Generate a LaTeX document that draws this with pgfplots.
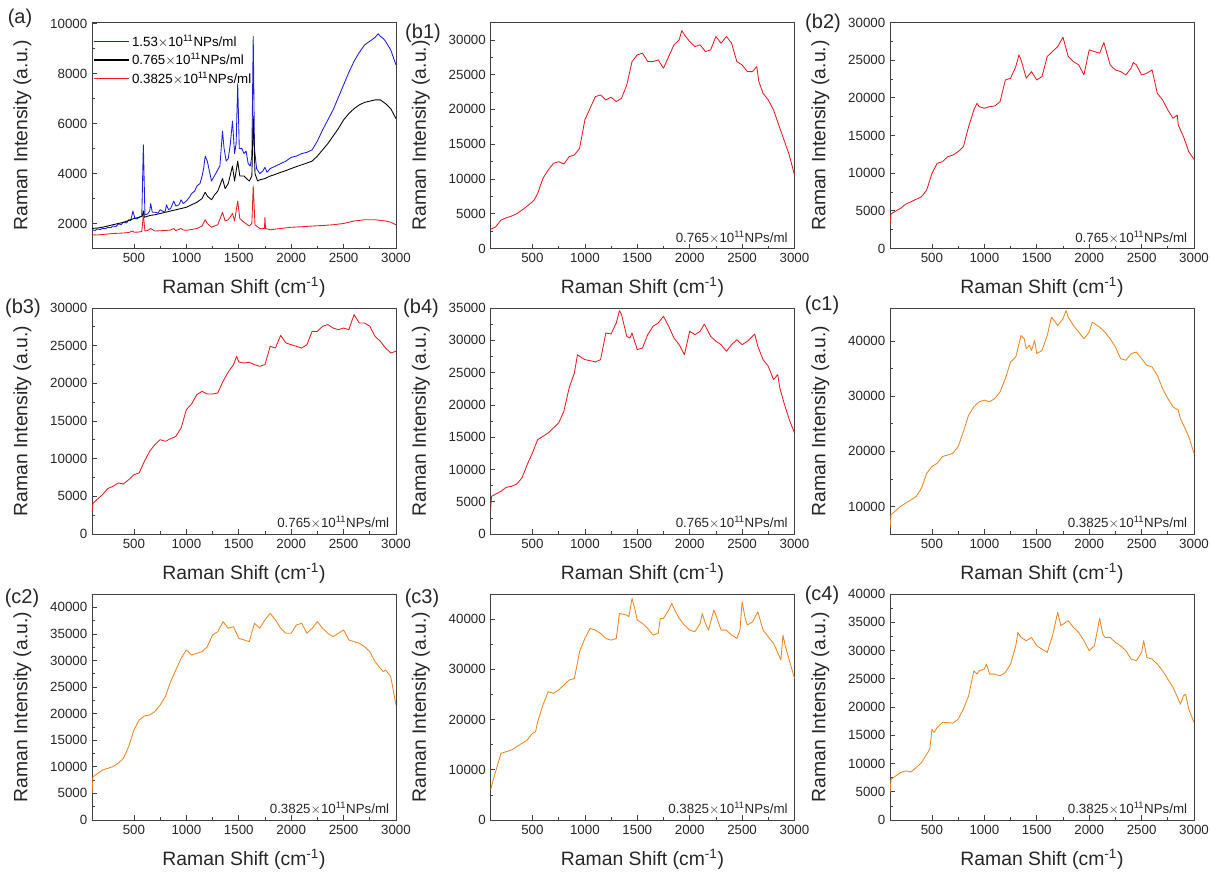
\documentclass[border=0pt]{standalone}
\usepackage{pgfplots}
\pgfplotsset{compat=1.18}
\usepackage{fontspec}
\setmainfont{Liberation Sans}
\definecolor{rred}{RGB}{228,30,36}
\definecolor{rblue}{RGB}{30,30,225}
\definecolor{rorange}{RGB}{236,136,36}
\tikzset{anno/.style={font=\fontsize{10}{12}\selectfont, text=black!85, anchor=east}}
\pgfplotsset{
  raman/.style={
    scale only axis, width=228pt, height=169.5pt,
    xmin=100, xmax=3000, xtick={500,1000,1500,2000,2500,3000},
    minor x tick num=1, minor y tick num=1,
    tick align=inside, tick pos=left,
    major tick length=3.6pt, minor tick length=2.2pt,
    axis line style={draw=black!75, line width=0.6pt},
    every tick/.style={black!75, line width=0.5pt},
    tick label style={font=\fontsize{10}{12}\selectfont, text=black!85},
    label style={font=\fontsize{14.5}{17}\selectfont, text=black!85},
    xlabel={Raman Shift (cm\textsuperscript{-1})},
    ylabel={Raman Intensity (a.u.)},
    x label style={at={(axis description cs:0.5,-0.173)}, anchor=center},
    y label style={at={(axis description cs:-0.229,0.5)}, anchor=center},
    scaled y ticks=false,
    /pgf/number format/1000 sep={},
    /pgf/number format/assume math mode=true,
    every axis plot/.append style={line width=0.65pt, mark=none, line join=round},
  },
}
\begin{document}
\begin{tikzpicture}
\useasboundingbox (0pt,0pt) rectangle (907.5pt,654.75pt);
% ---------------- (a)
\begin{axis}[raman, at={(69pt,637.875pt)}, anchor=north west,
  ymin=1000, ymax=10050, ytick={2000,4000,6000,8000,10000},
  legend cell align=left,
  legend style={at={(rel axis cs:0,1)}, anchor=north west, draw=none, fill=none,
    font=\fontsize{10}{12}\selectfont, inner sep=1pt, row sep=0pt,
    yshift=-6pt},
  legend image code/.code={\draw[#1, line width=0.8pt] (0pt,0pt) -- (26pt,0pt);}]
\addplot[rblue] coordinates {(100,1750)(130,1720)(150,1780)(180,1760)(200,1800)(230,1790)(250,1850)(280,1830)(300,1900)(330,1880)(350,1980)(380,1960)(400,2050)(430,2020)(450,2150)(470,2120)(490,2500)(510,2200)(530,2180)(550,2250)(575,2300)(590,5150)(605,2350)(630,2380)(650,2500)(660,2800)(675,2450)(700,2450)(730,2420)(750,2550)(780,2480)(800,2500)(810,2750)(830,2550)(850,2600)(880,2900)(900,2700)(930,2750)(950,2950)(970,2800)(1000,2900)(1030,3050)(1050,3200)(1080,3300)(1100,3500)(1130,3600)(1150,3900)(1165,4200)(1180,4700)(1200,4500)(1220,4100)(1240,3700)(1260,3850)(1280,4000)(1300,4150)(1320,4300)(1345,5700)(1360,5000)(1380,4500)(1400,4600)(1420,5200)(1440,6100)(1460,4800)(1475,5200)(1490,7600)(1505,5000)(1530,5000)(1550,4800)(1570,4900)(1590,4400)(1610,4300)(1625,4700)(1638,9500)(1650,5000)(1670,4200)(1700,4000)(1730,4100)(1750,4250)(1770,4050)(1800,4200)(1850,4300)(1900,4400)(1950,4500)(2000,4650)(2050,4700)(2100,4800)(2150,4850)(2200,4950)(2250,5300)(2300,5750)(2350,6150)(2400,6550)(2450,7050)(2500,7550)(2550,8050)(2600,8500)(2650,8850)(2700,9150)(2750,9300)(2800,9450)(2830,9600)(2850,9500)(2880,9400)(2900,9300)(2950,8950)(3000,8350)};
\addlegendentry{1.53$\times$10\textsuperscript{11}NPs/ml}
\addplot[black] coordinates {(100,1800)(150,1820)(200,1850)(250,1900)(300,1950)(350,2000)(400,2050)(450,2120)(500,2200)(550,2250)(580,2300)(590,2500)(600,2250)(650,2320)(700,2350)(750,2400)(800,2450)(850,2500)(900,2550)(950,2600)(1000,2650)(1050,2750)(1100,2850)(1150,3000)(1180,3250)(1200,3100)(1240,2950)(1270,3150)(1300,3300)(1345,3800)(1370,3400)(1400,3600)(1440,4300)(1460,3700)(1490,4500)(1510,3900)(1550,3900)(1600,3700)(1625,3900)(1638,6300)(1655,4000)(1680,3700)(1700,3750)(1750,3800)(1800,3900)(1850,3970)(1900,4050)(1950,4120)(2000,4200)(2050,4280)(2100,4350)(2150,4420)(2200,4500)(2250,4700)(2300,4950)(2350,5200)(2400,5500)(2450,5800)(2500,6150)(2550,6400)(2600,6600)(2650,6750)(2700,6850)(2750,6900)(2800,6950)(2850,6950)(2900,6800)(2950,6600)(3000,6200)};
\addlegendentry{0.765$\times$10\textsuperscript{11}NPs/ml}
\addplot[rred] coordinates {(100,1550)(150,1540)(200,1560)(250,1580)(300,1600)(350,1610)(400,1620)(450,1640)(490,1700)(500,1650)(550,1660)(575,1680)(590,2350)(605,1700)(630,1720)(660,1800)(700,1700)(750,1710)(800,1720)(850,1740)(880,1800)(900,1720)(950,1800)(970,1740)(1000,1730)(1050,1760)(1100,1800)(1150,1900)(1180,2150)(1200,2000)(1240,1850)(1270,1900)(1300,1950)(1345,2450)(1370,2100)(1400,2150)(1440,2400)(1460,2100)(1490,2900)(1510,2200)(1550,2050)(1600,1900)(1625,2000)(1638,3500)(1655,1950)(1700,1800)(1745,1800)(1750,2250)(1755,1800)(1800,1750)(1900,1800)(2000,1850)(2100,1870)(2200,1900)(2300,1920)(2400,1950)(2500,2000)(2600,2100)(2700,2150)(2800,2150)(2900,2100)(2950,2050)(3000,1950)};
\addlegendentry{0.3825$\times$10\textsuperscript{11}NPs/ml}
\end{axis}
% ---------------- (b1)
\begin{axis}[raman, at={(367.875pt,637.875pt)}, anchor=north west,
  ymin=0, ymax=32500, ytick={0,5000,10000,15000,20000,25000,30000}]
\addplot[rred] coordinates {(100,2740)(150,3120)(200,4080)(250,4400)(300,4660)(350,5000)(400,5520)(450,6100)(500,6720)(520,7060)(550,7920)(600,10080)(650,11280)(700,12240)(750,12480)(800,12150)(850,13200)(900,13440)(950,14400)(1000,18480)(1050,20160)(1100,21840)(1150,22080)(1200,21360)(1250,21750)(1300,21120)(1350,21600)(1400,23520)(1450,26880)(1500,27840)(1550,28080)(1600,26880)(1650,26880)(1700,27120)(1750,25920)(1800,27600)(1850,29280)(1900,30000)(1925,31350)(1950,30720)(2000,29760)(2050,29040)(2100,29280)(2150,28320)(2200,28560)(2250,30480)(2300,29520)(2350,30480)(2400,29520)(2450,26880)(2500,26400)(2550,25440)(2600,25440)(2640,26160)(2660,24000)(2700,22320)(2750,21360)(2800,19920)(2850,17760)(2900,15600)(2950,13440)(3000,10560)};
\node[anno] at (rel axis cs:0.993,0.05) {0.765$\times$10\textsuperscript{11}NPs/ml};
\end{axis}
% ---------------- (b2)
\begin{axis}[raman, at={(667.5pt,637.875pt)}, anchor=north west,
  ymin=0, ymax=30000, ytick={0,5000,10000,15000,20000,25000,30000}]
\addplot[rred] coordinates {(100,3000)(110,4600)(200,5320)(250,5890)(300,6200)(400,6870)(450,7750)(500,9970)(550,11300)(600,11520)(650,12180)(700,12400)(750,12850)(800,13510)(850,16170)(900,18390)(930,19270)(950,18830)(1000,18610)(1050,18830)(1100,18920)(1150,19490)(1200,22370)(1250,22600)(1300,24150)(1330,25700)(1350,25030)(1400,22600)(1450,23480)(1500,22370)(1550,22820)(1600,25480)(1650,26140)(1700,26800)(1750,28050)(1800,25480)(1850,24810)(1900,24370)(1950,23040)(2000,26360)(2050,26140)(2100,25920)(2140,27340)(2200,24370)(2250,23700)(2300,23480)(2350,23040)(2400,23930)(2420,24680)(2450,24370)(2500,23040)(2550,23260)(2600,23700)(2650,20600)(2700,19720)(2750,18390)(2800,17280)(2840,17720)(2850,16390)(2900,14840)(2950,12850)(3000,11830)};
\node[anno] at (rel axis cs:0.993,0.05) {0.765$\times$10\textsuperscript{11}NPs/ml};
\end{axis}
% ---------------- (b3)
\begin{axis}[raman, at={(69pt,423.75pt)}, anchor=north west,
  ymin=0, ymax=30000, ytick={0,5000,10000,15000,20000,25000,30000}]
\addplot[rred] coordinates {(100,3000)(110,4100)(200,5220)(250,6020)(300,6330)(350,6770)(400,6640)(450,7210)(500,7880)(550,8100)(600,9650)(650,10970)(700,11860)(750,12520)(800,12300)(850,12650)(900,12960)(950,14070)(1000,16500)(1050,17260)(1100,18500)(1150,18940)(1200,18580)(1250,18580)(1300,18720)(1350,20270)(1400,21500)(1450,22480)(1480,23580)(1500,22830)(1550,22700)(1600,22790)(1650,22480)(1700,22260)(1750,22480)(1800,24910)(1850,24690)(1900,26370)(1950,25350)(2000,25130)(2050,24910)(2100,24690)(2150,25130)(2200,26900)(2250,26900)(2300,27570)(2350,27790)(2400,27340)(2450,27120)(2500,27340)(2550,27120)(2600,29120)(2650,28010)(2700,28010)(2750,27570)(2800,26240)(2850,25580)(2900,24690)(2950,24030)(3000,24250)};
\node[anno] at (rel axis cs:0.993,0.05) {0.765$\times$10\textsuperscript{11}NPs/ml};
\end{axis}
% ---------------- (b4)
\begin{axis}[raman, at={(367.875pt,423.75pt)}, anchor=north west,
  ymin=0, ymax=35000, ytick={0,5000,10000,15000,20000,25000,30000,35000}]
\addplot[rred] coordinates {(100,3510)(110,5830)(200,6610)(250,7230)(300,7380)(350,7740)(400,8670)(450,10740)(500,12550)(550,14610)(600,15130)(650,15640)(700,16420)(750,17190)(800,19000)(850,22610)(900,24940)(930,27770)(950,27520)(1000,27000)(1050,26850)(1100,26640)(1150,27000)(1200,31130)(1250,30970)(1300,32680)(1330,34590)(1350,33970)(1400,30610)(1430,30360)(1450,31130)(1480,29580)(1500,28550)(1550,28810)(1600,30870)(1650,32160)(1700,32680)(1750,33710)(1800,32160)(1850,30360)(1900,29320)(1950,27770)(2000,31390)(2050,30870)(2100,31390)(2140,32520)(2200,30610)(2250,29840)(2300,29320)(2350,28290)(2400,29320)(2450,30090)(2500,29320)(2550,29840)(2620,30970)(2650,29060)(2700,27000)(2750,25970)(2800,23900)(2840,24680)(2860,22610)(2900,20290)(2950,17710)(3000,15640)};
\node[anno] at (rel axis cs:0.993,0.05) {0.765$\times$10\textsuperscript{11}NPs/ml};
\end{axis}
% ---------------- (c1)
\begin{axis}[raman, at={(667.5pt,423.75pt)}, anchor=north west,
  ymin=5000, ymax=46000, ytick={10000,20000,30000,40000}]
\addplot[rorange] coordinates {(100,6080)(110,8490)(200,10000)(250,10600)(300,11200)(350,11810)(400,13310)(450,16020)(500,17230)(550,17830)(600,19040)(650,19340)(700,19640)(750,20840)(800,23550)(850,26570)(900,28070)(950,28980)(1000,29280)(1050,28980)(1100,29580)(1150,30780)(1200,33190)(1250,36200)(1300,37110)(1350,41020)(1380,40420)(1400,38610)(1430,39220)(1450,38310)(1480,40120)(1500,37710)(1550,38310)(1600,41020)(1640,44340)(1700,42830)(1750,44040)(1780,45540)(1800,44340)(1850,42830)(1900,41630)(1950,40420)(2000,41630)(2030,43430)(2100,42530)(2150,41630)(2200,40420)(2250,38920)(2300,36810)(2350,36510)(2400,37710)(2450,38010)(2500,36810)(2550,35600)(2600,35300)(2650,33800)(2700,31390)(2750,29580)(2800,28070)(2850,27470)(2870,25960)(2900,24760)(2950,22650)(3000,19640)};
\node[anno] at (rel axis cs:0.993,0.05) {0.3825$\times$10\textsuperscript{11}NPs/ml};
\end{axis}
% ---------------- (c2)
\begin{axis}[raman, at={(69pt,209.25pt)}, anchor=north west,
  ymin=0, ymax=42500, ytick={0,5000,10000,15000,20000,25000,30000,35000,40000}]
\addplot[rorange] coordinates {(100,5020)(110,8150)(200,9400)(250,9720)(300,10030)(350,10660)(400,11600)(450,13790)(500,16930)(550,18810)(600,19560)(650,19750)(700,20380)(750,21630)(800,23200)(850,26020)(900,28210)(950,30410)(1000,31970)(1050,31030)(1100,31350)(1150,31660)(1200,32600)(1250,34800)(1300,35420)(1350,37300)(1400,36050)(1450,36360)(1500,34170)(1550,33860)(1600,33540)(1650,36990)(1700,36050)(1750,37620)(1800,38870)(1850,37620)(1900,36050)(1950,35110)(2000,35110)(2050,36680)(2100,36990)(2150,35110)(2200,36050)(2250,37300)(2300,36050)(2350,35110)(2400,34480)(2450,35110)(2500,35740)(2550,33860)(2600,33540)(2650,33230)(2700,32600)(2750,31660)(2800,29780)(2850,28530)(2880,27900)(2900,28210)(2950,26960)(3000,21630)};
\node[anno] at (rel axis cs:0.993,0.05) {0.3825$\times$10\textsuperscript{11}NPs/ml};
\end{axis}
% ---------------- (c3)
\begin{axis}[raman, at={(367.875pt,209.25pt)}, anchor=north west,
  ymin=0, ymax=45000, ytick={0,10000,20000,30000,40000}]
\addplot[rorange] coordinates {(100,5970)(130,8290)(200,13270)(250,13600)(300,13930)(400,15260)(450,15920)(500,17250)(530,17580)(550,19570)(600,22890)(650,25540)(700,25210)(750,25870)(800,26870)(850,27860)(900,28190)(950,33500)(1000,36150)(1050,38140)(1100,37810)(1150,37150)(1200,36150)(1250,35820)(1300,36150)(1330,41130)(1400,40800)(1420,40460)(1450,44110)(1480,41790)(1500,39800)(1550,39140)(1600,38140)(1650,36820)(1700,37150)(1720,40130)(1750,40130)(1800,41790)(1830,43120)(1850,42120)(1900,40130)(1950,38810)(2000,37810)(2050,37480)(2100,39140)(2120,41130)(2150,39140)(2180,37810)(2230,41790)(2250,40800)(2300,37810)(2350,37810)(2400,36820)(2450,36150)(2480,37810)(2500,43450)(2530,40130)(2550,38810)(2600,39470)(2650,41460)(2700,37810)(2750,36480)(2800,35160)(2850,32840)(2870,31840)(2890,36820)(2910,34830)(2950,31840)(3000,28190)};
\node[anno] at (rel axis cs:0.993,0.05) {0.3825$\times$10\textsuperscript{11}NPs/ml};
\end{axis}
% ---------------- (c4)
\begin{axis}[raman, at={(667.5pt,209.25pt)}, anchor=north west,
  ymin=0, ymax=40000, ytick={0,5000,10000,15000,20000,25000,30000,35000,40000}]
\addplot[rorange] coordinates {(100,4840)(110,7210)(200,8390)(250,8690)(300,8510)(350,9280)(400,10160)(450,11640)(480,12530)(500,16070)(520,15480)(550,16370)(600,17250)(650,17250)(700,17130)(750,17840)(800,19620)(850,21980)(900,26410)(930,25820)(950,26410)(1000,26710)(1020,27590)(1050,25820)(1100,25820)(1150,25520)(1200,26120)(1250,27590)(1300,30840)(1320,33200)(1350,32320)(1400,31730)(1450,32320)(1500,30840)(1550,30250)(1600,29660)(1650,32610)(1700,36750)(1730,34390)(1800,35270)(1850,34090)(1900,33200)(1950,31730)(2000,29960)(2050,30840)(2100,35690)(2130,32910)(2150,32320)(2200,32320)(2250,31430)(2300,30840)(2350,29960)(2400,28480)(2450,28180)(2500,29660)(2520,31730)(2550,28770)(2600,28480)(2650,27590)(2700,26410)(2750,24930)(2800,23460)(2850,21390)(2870,20500)(2900,21980)(2920,22270)(2950,19620)(3000,17250)};
\node[anno] at (rel axis cs:0.993,0.05) {0.3825$\times$10\textsuperscript{11}NPs/ml};
\end{axis}
% ---------------- panel labels
\begin{scope}[every node/.style={font=\fontsize{15}{18}\selectfont, text=black!85}]
\node at (15pt,641.25pt) {(a)};
\node at (317.25pt,630pt) {(b1)};
\node at (617.25pt,637.5pt) {(b2)};
\node at (17.25pt,423.75pt) {(b3)};
\node at (315.75pt,423.75pt) {(b4)};
\node at (616.5pt,426pt) {(c1)};
\node at (16.5pt,206.25pt) {(c2)};
\node at (316.5pt,206.25pt) {(c3)};
\node at (616.5pt,208.5pt) {(c4)};
\end{scope}
\end{tikzpicture}
\end{document}
